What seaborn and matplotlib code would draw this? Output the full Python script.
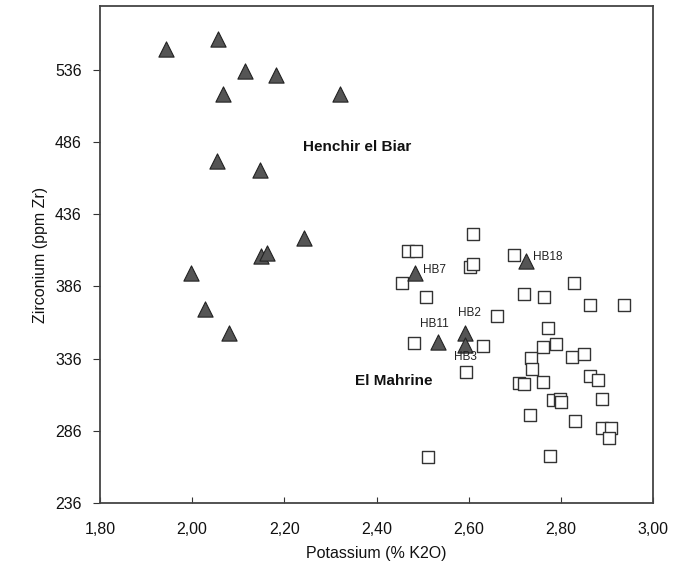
import matplotlib
matplotlib.use("Agg")
import matplotlib.pyplot as plt
from matplotlib.ticker import FixedLocator, FuncFormatter
import numpy as np
import pandas as pd
import seaborn as sns

# Henchir el Biar (triangles)
biar_k2o = [1.943, 2.057, 2.115, 2.183, 2.067, 2.320, 2.055, 2.147, 2.243,
            2.149, 2.162, 1.997, 2.027, 2.079,
            2.484, 2.724, 2.592, 2.592, 2.534]
biar_zr = [550.7, 557.6, 535.0, 532.2, 519.0, 519.0, 472.5, 466.4, 419.2,
           406.9, 409.2, 395.0, 370.0, 353.9,
           395.0, 403.5, 353.4, 345.3, 347.6]

# El Mahrine (squares)
mahrine_k2o = [2.609, 2.468, 2.486, 2.603, 2.609, 2.456, 2.507, 2.699, 2.829,
               2.719, 2.764, 2.864, 2.937, 2.662, 2.481, 2.630, 2.771, 2.762,
               2.790, 2.735, 2.823, 2.851, 2.738, 2.594, 2.762, 2.709, 2.719,
               2.862, 2.881, 2.888, 2.783, 2.797, 2.800, 2.732, 2.831, 2.889,
               2.908, 2.905, 2.511, 2.777]
mahrine_zr = [422.6, 410.6, 410.6, 399.5, 401.4, 388.5, 378.4, 407.6, 388.2,
              380.4, 378.4, 373.0, 373.0, 365.4, 346.5, 344.4, 356.9, 344.2,
              346.0, 336.1, 337.2, 339.1, 328.9, 326.7, 319.9, 319.3, 318.4,
              324.1, 321.1, 307.8, 307.3, 307.8, 306.1, 296.9, 293.0, 287.7,
              287.7, 281.0, 267.6, 268.3]

# sample labels
hb_names = ["HB7", "HB18", "HB2", "HB11", "HB3"]
hb_text_x = [2.501, 2.740, 2.601, 2.525, 2.592]
hb_text_y = [397.2, 406.2, 367.5, 359.9, 337.0]
hb_align = ["left", "left", "center", "center", "center"]

x_ticks = [1.8, 2.0, 2.2, 2.4, 2.6, 2.8, 3.0]
y_ticks = [236, 286, 336, 386, 436, 486, 536]

sns.set_style("white")
plt.rcParams["font.family"] = ["Liberation Sans", "DejaVu Sans"]

df = pd.concat(
    [
        pd.DataFrame({"k2o": biar_k2o, "zr": biar_zr, "site": "Henchir el Biar"}),
        pd.DataFrame({"k2o": mahrine_k2o, "zr": mahrine_zr, "site": "El Mahrine"}),
    ]
)

fig = plt.figure(figsize=(6.89, 5.67), dpi=100)
ax = fig.add_axes([0.145, 0.113, 0.803, 0.876])

sns.scatterplot(
    data=df[df["site"] == "El Mahrine"], x="k2o", y="zr", ax=ax,
    marker="s", s=80, facecolor="white", edgecolor="#333333", linewidth=1.0,
)
sns.scatterplot(
    data=df[df["site"] == "Henchir el Biar"], x="k2o", y="zr", ax=ax,
    marker="^", s=120, color="#555555", edgecolor="#222222", linewidth=0.8,
)

for name, tx, ty, ha in zip(hb_names, hb_text_x, hb_text_y, hb_align):
    ax.text(tx, ty, name, fontsize=8.5, ha=ha, va="center", color="#222222")

ax.text(2.241, 482.4, "Henchir el Biar", fontsize=11, fontweight="bold",
        ha="left", va="center", color="#111111")
ax.text(2.353, 320.4, "El Mahrine", fontsize=11, fontweight="bold",
        ha="left", va="center", color="#111111")

ax.set_xlim(1.8, 3.0)
ax.set_ylim(236, 580)
ax.xaxis.set_major_locator(FixedLocator(x_ticks))
ax.yaxis.set_major_locator(FixedLocator(y_ticks))
ax.xaxis.set_major_formatter(FuncFormatter(lambda v, p: f"{v:.2f}".replace(".", ",")))
ax.yaxis.set_major_formatter(FuncFormatter(lambda v, p: f"{v:.0f}"))
ax.tick_params(axis="x", direction="in", length=4, width=0.8, labelsize=11.5,
               pad=14, colors="#333333", labelcolor="#111111")
ax.tick_params(axis="y", direction="out", length=5, width=0.8, labelsize=11.5,
               pad=8, colors="#333333", labelcolor="#111111")
ax.tick_params(left=True, bottom=True)

for side in ["top", "right", "bottom", "left"]:
    ax.spines[side].set_visible(True)
    ax.spines[side].set_color("#444444")
    ax.spines[side].set_linewidth(1.3)

ax.set_xlabel("Potassium (% K2O)", fontsize=11.5, color="#111111", labelpad=6)
ax.set_ylabel("Zirconium (ppm Zr)", fontsize=11.5, color="#111111", labelpad=5)
ax.grid(False)

plt.savefig("out.png", dpi=100)
plt.close()
